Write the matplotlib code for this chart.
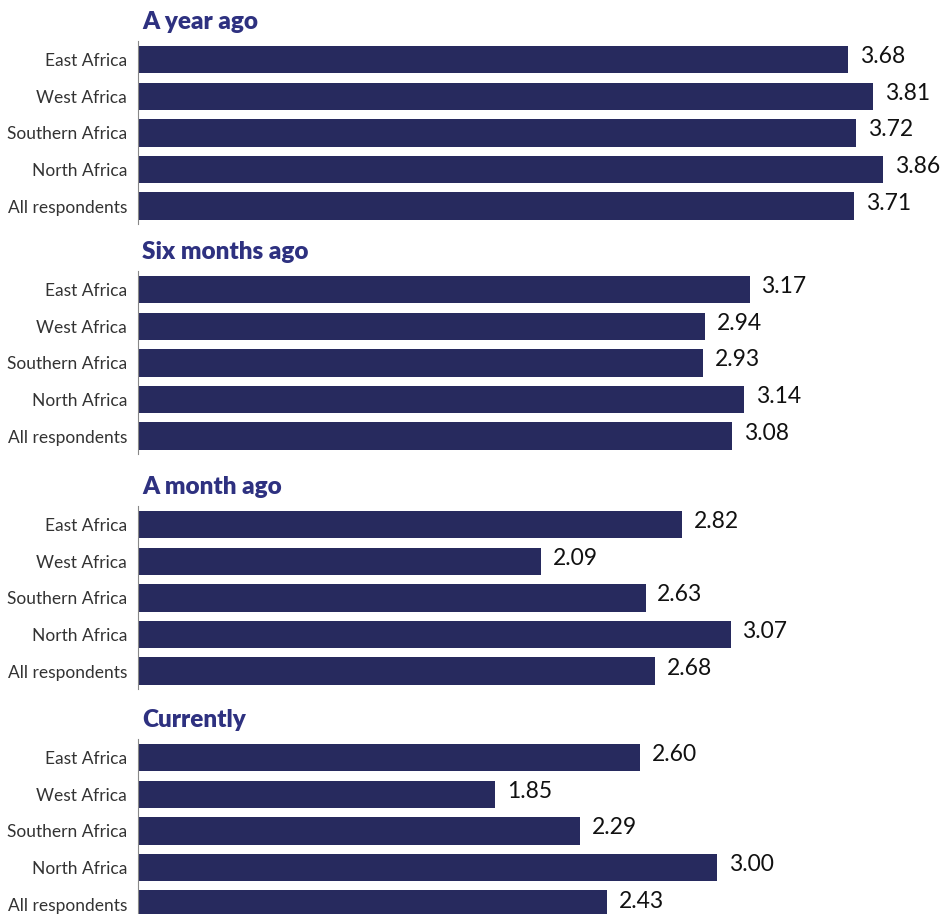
import matplotlib
matplotlib.use("Agg")
import matplotlib.pyplot as plt

plt.rcParams['font.family'] = ['Lato', 'DejaVu Sans']

# Dane
regions = ["East Africa", "West Africa", "Southern Africa", "North Africa", "All respondents"]
titles = ["A year ago", "Six months ago", "A month ago", "Currently"]
year_ago = [3.68, 3.81, 3.72, 3.86, 3.71]
six_months_ago = [3.17, 2.94, 2.93, 3.14, 3.08]
month_ago = [2.82, 2.09, 2.63, 3.07, 2.68]
currently = [2.60, 1.85, 2.29, 3.00, 2.43]
series = [year_ago, six_months_ago, month_ago, currently]

bar_color = "#272a5e"
title_color = "#2e3180"

W, H = 952, 914
fig = plt.figure(figsize=(W / 100, H / 100), dpi=100)

# gorne krawedzie paneli w pikselach
tops = [41.4, 271.4, 506.4, 739.4]
pitch = 36.6
left_px = 138
xmax = 4.0
k = 193  # pikseli na jednostke

for top, title, vals in zip(tops, titles, series):
    h = 5 * pitch
    ax = fig.add_axes([left_px / W, 1 - (top + h) / H, xmax * k / W, h / H])
    y = list(range(len(regions)))
    ax.barh(y, vals, height=0.75, color=bar_color)
    ax.set_ylim(4.5, -0.5)
    ax.set_xlim(0, xmax)
    ax.set_yticks(y)
    ax.set_yticklabels(regions, fontsize=12.5, color="#333333")
    ax.tick_params(axis="y", length=0, pad=8)
    ax.set_xticks([])
    for s in ["top", "right", "bottom"]:
        ax.spines[s].set_visible(False)
    ax.spines["left"].set_color("#888888")
    ax.spines["left"].set_linewidth(0.8)
    for yi, v in zip(y, vals):
        ax.text(v + 0.06, yi - 0.08, f"{v:.2f}", va="center", ha="left",
                fontsize=16.5, color="#111111")
    fig.text(142 / W, 1 - (top - 19) / H, title, fontsize=17.5, fontweight="heavy",
             color=title_color, va="center", ha="left")

fig.savefig("out.png", dpi=100)
